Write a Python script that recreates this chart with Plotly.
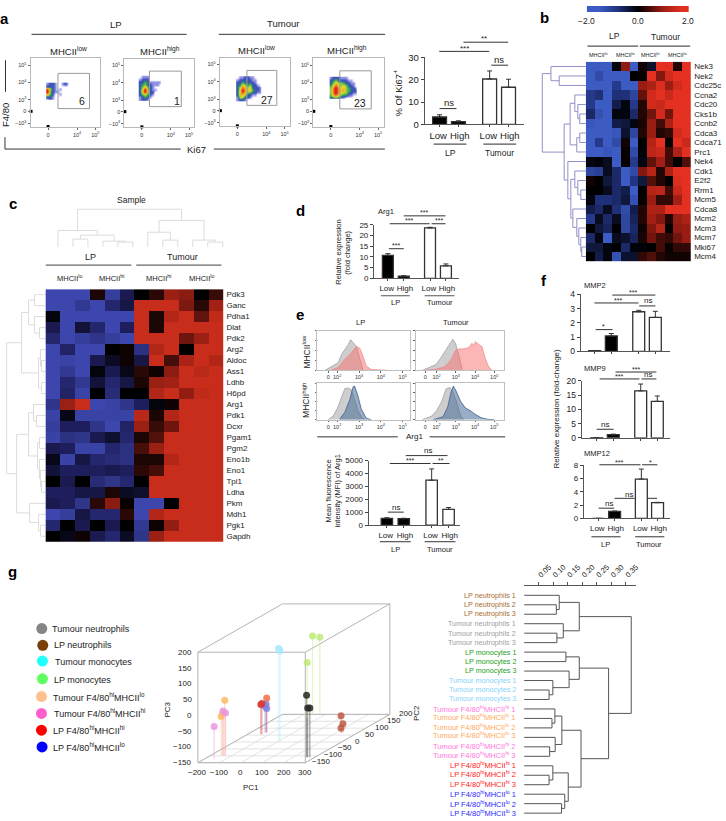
import plotly.graph_objects as go

W, H = 726, 821
FONT = "Liberation Sans"
INK = "#222222"

# ---------- panel a: bars ----------
A_BAR = [3.3, 1.2, 20.3, 16.6]
A_ERR = [1.0, 0.4, 3.6, 3.6]
# ---------- panel d / e / f bars ----------
D_BAR = [10.7, 1.0, 23.5, 5.8]
D_ERR = [0.8, 0.2, 0.3, 0.9]
E_BAR = [530, 510, 3480, 1220]
E_ERR = [50, 30, 870, 150]
MMP2 = [0.05, 1.08, 2.78, 2.38]
MMP2_ERR = [0, 0.17, 0.1, 0.43]
MMP9 = [0.1, 1.1, 16.5, 12.8]
MMP9_ERR = [0, 0.2, 2.4, 1.9]
MMP12 = [0, 1.05, 5.9, 2.35]
MMP12_ERR = [0, 0.05, 1.5, 0.05]
BAR_LABELS = ["Low\u00a0", "\u00a0High", "Low\u00a0", "\u00a0High"]
BAR_X = [0, 1, 2.65, 3.65]

# ---------- panel a: flow density grids (0 = empty) ----------
FLOW1 = [[.5,1,1,.5,0,0,.5,1,.5],[1,1,1,.5,0,0,0,0,0],[4,2,1,.5,0,.5,0,0,0],[5,1.5,1,.5,.5,0,0,0,0],
         [3,1.5,1,0,0,.5,0,0,0],[1,1,.5,0,0,0,0,0,0],[.5,1,.5,0,0,0,0,0,0]]
FLOW2 = [[0,.5,.5,.5,0,0,0,0,0],[.5,1,1,1,0,0,0,0,0],[1,1,1.5,1,.5,.5,.5,.5,.5],[1,1.5,2,1,1,.5,.5,.5,0],
         [1,2,3,1.5,1,.5,0,0,0],[1,3,5,2,1,.5,.5,0,0],[1,3,5,2,1,1,0,0,0],[1,2,2.5,1.5,1,.5,0,0,0],
         [.5,1,1.5,1,.5,0,0,0,0],[.5,1,1,.5,0,0,0,0,0]]
FLOW3 = [[0,.5,.5,1,1,.5,.5,0,0,0],[.5,1,1,1,1,1,.5,.5,0,0],[1,1,1.5,1,1,1,1,.5,0,0],[1,1.5,3,2,1.5,2,1,1,.5,0],
         [1,2.5,3.5,3,2,2.5,1,1,1,.5],[1,3,5,3,2,3,1.5,1,1,.5],[1,3,4,3,2,1.5,1,1,.5,.5],[1,3,3,2,1,1,.5,.5,0,0],
         [.5,2.5,2,1,1,.5,0,0,0,0],[.5,1,1,.5,0,0,0,0,0]]
FLOW4 = [[.5,1,1,1,.5,.5,.5,0,0,0,0],[1,1.5,2,1,1,1,1,.5,.5,0,0],[1,2,3,2,2,1.5,1,1,.5,.5,0],
         [1.5,3,4,2.5,2,2.5,2,1,1,.5,0],[2,4,5,3,2.5,3,2,1.5,1,1,.5],[2,4,5,3,3,3,2,1.5,1,1,1],
         [2,4,5,3,2.5,2,2,1,1,.5,.5],[1.5,3,3,2,1.5,1,1,.5,.5,0,0],[1,1,1.5,1,.5,.5,0,0,0,0,0]]
FLOW_GATE_LABELS = ["6", "1", "27", "23"]

# ---------- panel b ----------
B_GENES = ["Nek3","Nek2","Cdc25c","Ccna2","Cdc20","Cks1b","Ccnb2","Cdca3","Cdca71","Prc1","Nek4","Cdk1","E2f2",
           "Rrm1","Mcm5","Cdca8","Mcm2","Mcm3","Mcm7","Mki67","Mcm4"]
B_Z = [
 [-1.8,-1.8,-1.8,-.1,.9,-1.6,.1,-.3,2,2,.2,2],
 [-1.8,-1.3,-1.8,-1.8,-1.8,0,.05,2,.8,1.6,2,2],
 [-1.8,-1.8,-1.8,-1,-1.8,-1.8,1,1.2,1.7,1,1.6,2],
 [-1,-.8,-1.8,-.8,-.8,-1.2,.6,1.6,2,1.5,2,2],
 [-1,-1.7,-1.7,-.5,-.1,-1,.2,1.6,1.5,2,2,2],
 [-.7,-1.4,-1.7,-.1,-.1,-.7,.2,.7,1.6,.7,2,2],
 [-1.5,-1.6,-1.7,-.5,-.4,-.1,.15,1,.4,1.2,1.8,2],
 [-1.8,-1.8,-1.8,-1.5,-.3,-1.2,.2,1,.2,.3,1.6,2],
 [-1.8,-1,-1.8,-1.3,.1,-1.6,0,1.3,2,0,1.8,1.5],
 [-1.8,-1.8,-1.5,-1.7,.05,-1.3,-.05,1.4,1.5,.4,1.2,2],
 [-.1,-.05,-.2,-1.7,.05,-1,-.1,.6,1.1,.4,0,.5],
 [-1.2,-1.1,-.2,-.7,-1.7,-1.3,.8,1.3,.2,1.2,1.8,2],
 [.1,0,-.4,-.7,-1.7,-.9,-.4,.5,.2,0,1.7,2],
 [0,0,-.2,-.7,-.5,-1.6,0,1.3,1.4,.4,1.5,2],
 [-.1,-.8,-.8,-.7,-.4,-1.4,.05,1,.3,.3,1.1,1.9],
 [-.5,-.7,-.2,-.8,-1.3,-.5,.2,1.2,1.2,2,2,2],
 [-1,-.2,-.7,-.2,-1.2,-.6,.2,1.1,.8,.2,1,1.2],
 [0,-.4,-.6,0,-1.2,-.7,.1,.8,1.3,0,.9,1],
 [-.7,-.1,-1.6,-.2,-.3,-.6,.15,.7,.4,.3,.7,1],
 [-.4,-.4,-.1,0,-.7,-.05,-.05,0,.4,.05,.3,.3],
 [0,-.5,-.1,-1.4,-.3,-.3,.3,.5,.2,.1,.1,.1],
]
B_TREE = [43.7, [35, 0, [26.7, 1, 2]],
          [21.7, [15.7, [11, 3, [8, 4, [6, 5, 6]]], [9, [6, 7, 8], 9]],
           [18, 10, [15, [11, 11, [8, 12, [5, 13, 14]]],
                     [13, 15, [9, 16, [7, 17, [5, 18, [4, 19, 20]]]]]]]]]
# ---------- panel c ----------
C_GENES = ["Pdk3","Ganc","Pdha1","Dlat","Pdk2","Arg2","Aldoc","Ass1","Ldhb","H6pd","Arg1","Pdk1","Dcxr","Pgam1",
           "Pgm2","Eno1b","Eno1","Tpi1","Ldha","Pkm","Mdh1","Pgk1","Gapdh"]
C_Z = [
 [-1.7,-1.7,-1.7,.2,-1.5,-.7,0,.3,1.2,1,0,.4],
 [-1.7,-1.7,-1.4,-1.7,-1,-.6,1.8,2,1.8,.9,.3,1.3],
 [-.1,-1.7,-1.7,-1.7,-1.7,-1.7,2,.2,1.5,2,.7,1.7],
 [-.7,-1.7,-.5,-1,-1.7,-.8,2,.2,2,2,2,2],
 [-1,-1.7,-1.5,-1.3,-1.5,-1.7,2,2,2,.8,1.2,2],
 [-1.7,-.9,-1.7,-1.7,0,.1,-1.2,1.5,2,0,2,1.8],
 [-1.7,-1.6,-1.7,-.7,-.3,.1,-.6,2,.5,1.4,2,1.5],
 [-1.7,-1.4,-1.7,-.1,-.7,-.2,.3,.1,1,2,1.6,2],
 [-1.7,-1,-1.4,-.5,-1,-.6,.2,1.2,1.3,2,2,2],
 [-1.7,-.9,-1.6,0,-1.1,0,0,1.5,2,1.1,1.7,2],
 [-1.3,1.2,2,-1.7,-1.6,-1.3,-.8,-.1,.1,2,2,2],
 [-1.6,-.2,-1.6,-1.6,-1.6,-1.6,1.6,.2,1.5,2,1.8,2],
 [-1.5,-.8,-.8,-1.3,-1.7,-.9,1.2,.4,.8,1.8,2,2],
 [-1.6,-1.2,-1.3,-.7,-.4,-1,.2,.6,2,2,2,2],
 [-.7,-.8,-1.6,-1.6,-1,-1.2,.5,1.2,2,2,2,2],
 [-.2,-1.6,-.6,-1,-1.1,-1.2,.2,.2,1.5,2,2,2],
 [-.5,-.8,-.8,-.8,-.7,-.8,.3,.5,2,2,2,2],
 [0,-.7,0,-1.1,-1.3,-1,0,1.9,1.8,2,2,2],
 [-.8,-.8,-.6,-.6,.2,-.3,-.4,1.9,1.9,2,2,2],
 [-.7,-.8,-1.3,.3,1,.05,-1.7,-1.7,0,2,2,2],
 [-1.7,-1.5,-.6,-1,-1,.3,-1.7,1.5,2,2,2,2],
 [-1,0,-.7,0,-.7,0,-1.4,.1,1.1,2,2,2],
 [0,-.2,.1,-.7,-1,-.3,-1.3,1.2,1.8,2,2,2],
]
C_LEFT_TREE = [39, [24, [17, [11, 0, 1], [11, 2, [6, 3, 4]]], [7, [5, 5, [4, 6, 7]], [4, 8, 9]]],
               [29, [17, [12, 10, [9, 11, 12]], [8, [6, 13, 14], [6, 15, [5, 16, [4, 17, 18]]]]],
                [16, 19, [7, 20, [5, 21, 22]]]]]
C_TOP_TREE = [38.3, [16.7, 0, [12, [8, 1, 2], [6, 3, [5, 4, 5]]]],
              [27, [15, 6, [7, 7, 8]], [7, 9, [5, 10, 11]]]]

# ---------- panel e: histograms (decade position, % of box height) ----------
H1_GREY_X = [1.44,1.82,2.05,2.2,2.35,2.5,2.62,2.73,2.88,3.03,3.18]
H1_GREY_Y = [0,11,19,40,52,64,77,69,60,31,2]
H1_PINK_X = [1.74,2.05,2.27,2.5,2.65,2.88,3.03,3.18,3.33,3.56,4.0,4.3]
H1_PINK_Y = [1,7,23,36,44,60,56,36,11,2,1,0]
H2_GREY_X = [1.26,1.69,1.95,2.2,2.47,2.64,2.84,2.98,3.16,3.33]
H2_GREY_Y = [0,8,14,30,50,65,78,68,38,2]
H2_PINK_X = [1.43,1.86,2.38,2.64,2.81,2.98,3.16,3.41,3.67,3.84,3.93,4.02,4.19,4.36,4.53,4.7,4.88]
H2_PINK_Y = [0,2,8,20,32,50,54,54,57,68,62,72,65,60,30,10,0]
H3_GREY_X = [1.59,1.82,2.02,2.2,2.35,2.5,2.65,2.8,2.95,3.1,3.26]
H3_GREY_Y = [0,10,32,60,85,87,82,55,25,8,0]
H3_BLUE_X = [2.12,2.35,2.58,2.73,2.8,2.95,3.1,3.33,3.56]
H3_BLUE_Y = [2,20,55,90,92,65,30,4,0]
H4_GREY_X = [1.25,1.75,2,2.25,2.5,2.7,2.83,3,3.25,3.4]
H4_GREY_Y = [0,10,25,48,85,88,78,55,10,0]
H4_BLUE_X = [1.83,2.33,2.58,2.75,2.87,3,3.25,3.5,3.75,4,4.33,4.67,5]
H4_BLUE_Y = [0,8,35,75,92,80,50,32,25,15,5,1,0]

# ---------- panel g: PCA ----------
PCA_GROUPS = [
 ("Tumour F4/80 lo", "rgba(253,185,100,0.85)", [-133.5,-150,-143], [-98,-98,-98], [25,-26,-15]),
 ("Tumour F4/80 hi", "rgba(232,150,225,0.85)", [-141,-130,-157], [-98,-98,-121], [-9,-15,-48]),
 ("LP F4/80 lo", "rgba(130,130,225,0.85)", [-126,-129,-134], [69,69,69], [-74,-60,-67]),
 ("LP F4/80 hi", "rgba(220,55,50,0.85)", [-140,-135], [57,57], [-56,-53]),
 ("LP F4/80 hi b", "rgba(240,110,70,0.85)", [-126], [69], [-41]),
 ("Tumour neutrophils", "rgba(40,40,40,0.85)", [261,266,276], [-110,-110,-110], [46,6,6]),
 ("LP neutrophils", "rgba(190,90,70,0.85)", [220,229,220], [69,69,69], [-97,-122,-136]),
 ("Tumour monocytes", "rgba(170,235,250,0.85)", [-4,3.6,-1], [9.5,9.5,9.5], [142,134,140]),
 ("LP monocytes", "rgba(190,235,120,0.85)", [-60,-26,-58], [200,200,176], [98,94,25]),
]
PC1_TICKS = [-200,-100,0,100,200,300]
PC2_TICKS = [-150,-100,-50,0,50,100,150,200]
PC3_TICKS = [-150,-100,-50,0,50,100,150,200]
LEGEND_NAMES = ["Tumour neutrophils","LP neutrophils","Tumour monocytes","LP monocytes",
                "Tumour F4/80<sup>hi</sup>MHCII<sup>lo</sup>","Tumour F4/80<sup>hi</sup>MHCII<sup>hi</sup>",
                "LP F4/80<sup>hi</sup>MHCII<sup>hi</sup>","LP F4/80<sup>hi</sup>MHCII<sup>lo</sup>"]
LEGEND_COLORS = ["#858585","#7a3e08","#20ffff","#60ff60","#ffc090","#ff60d0","#ff0000","#0000ff"]

# ---------- panel g: dendrogram ----------
def hh(t, n): return f"{t} F4/80<sup>hi</sup>MHCII<sup>{n}</sup>"
DEND_LABELS = ["LP neutrophils 1","LP neutrophils 2","LP neutrophils 3","Tumour neutrophils 1","Tumour neutrophils 2",
 "Tumour neutrophils 3","LP monocytes 1","LP monocytes 2","LP monocytes 3","Tumour monocytes 1","Tumour monocytes 2",
 "Tumour monocytes 3",hh("Tumour","hi")+" 1",hh("Tumour","lo")+" 1",hh("Tumour","lo")+" 2",hh("Tumour","lo")+" 3",
 hh("Tumour","hi")+" 2",hh("Tumour","hi")+" 3",hh("LP","hi")+" 1",hh("LP","hi")+" 2",hh("LP","hi")+" 3",
 hh("LP","lo")+" 1",hh("LP","lo")+" 2",hh("LP","lo")+" 3"]
DEND_COLORS = ["#a86a30"]*3+["#a0a0a0"]*3+["#20a020"]*3+["#86d4fa"]*3+["#ff78e0","#ffa860","#ffa860","#ffa860","#ff78e0","#ff78e0"]+["#ff2020"]*3+["#2828ff"]*3
DEND_TREE = [.369,
  [.19, [.121, 0, [.111, 1, 2]], [.135, 3, [.113, 4, 5]]],
  [.291,
   [.19, [.144, 6, 7], [.155, 8, [.099, 9, [.086, 10, 11]]]],
   [.196,
    [.13, [.106, 12, [.096, 13, 14]], [.107, 15, [.088, 16, 17]]],
    [.152, [.099, 18, [.086, 19, 20]], [.14, 21, [.129, 22, 23]]]]]]
DEND_TICKS = [.05,.10,.15,.20,.25,.30,.35]

# ============= helpers =============
layout = dict(width=W, height=H, margin=dict(l=0,r=0,t=0,b=0,pad=0), paper_bgcolor="white", plot_bgcolor="rgba(0,0,0,0)",
              showlegend=False, font=dict(family=FONT, color=INK, size=9), annotations=[], shapes=[],
              hovermode=False)
traces = []
n_ax = [1]
layout["xaxis"] = dict(domain=[0,1], range=[0,W], visible=False, fixedrange=True)
layout["yaxis"] = dict(domain=[0,1], range=[H,0], visible=False, fixedrange=True)

def new_axes(x0, y0, x1, y1, xo, yo):
    n_ax[0] += 1
    n = n_ax[0]
    base = dict(fixedrange=True, showgrid=False, zeroline=False)
    layout[f"xaxis{n}"] = dict(base, domain=[x0/W, x1/W], anchor=f"y{n}", **xo)
    layout[f"yaxis{n}"] = dict(base, domain=[1-y1/H, 1-y0/H], anchor=f"x{n}", **yo)
    return f"x{n}", f"y{n}"

def T(x, y, s, size=9, angle=0, anchor="center", color=INK, bold=False):
    if bold: s = f"<b>{s}</b>"
    layout["annotations"].append(dict(x=x/W, y=1-y/H, xref="paper", yref="paper", text=s, showarrow=False,
        font=dict(size=size, color=color, family=FONT), textangle=angle, xanchor=anchor, yanchor="middle", borderpad=0))

def L(x0, y0, x1, y1, color="#333333", w=1):
    layout["shapes"].append(dict(type="line", xref="paper", yref="paper", x0=x0/W, x1=x1/W, y0=1-y0/H, y1=1-y1/H,
                                 line=dict(color=color, width=w)))

def R(x0, y0, x1, y1, color="#808080", w=1):
    layout["shapes"].append(dict(type="rect", xref="paper", yref="paper", x0=x0/W, x1=x1/W, y0=1-y0/H, y1=1-y1/H,
                                 line=dict(color=color, width=w), fillcolor="rgba(0,0,0,0)"))

def overlay_line(xs, ys, color, w=1):
    traces.append(go.Scatter(x=xs, y=ys, mode="lines", line=dict(color=color, width=w), hoverinfo="skip",
                             xaxis="x", yaxis="y", connectgaps=False))

def tree_segments(t, leafpos):
    """Returns (position, height, segment list) of a nested [height, a, b] tree."""
    if not isinstance(t, list):
        return leafpos(t), 0, []
    h, a, b = t
    pa, ha, sa = tree_segments(a, leafpos)
    pb, hb, sb = tree_segments(b, leafpos)
    return (pa+pb)/2, h, sa+sb+[((ha,pa),(h,pa),(h,pb),(hb,pb))]

def draw_tree_left(t, leaf_x, leafpos, color, w=1):
    _, _, segs = tree_segments(t, leafpos)
    xs, ys = [], []
    for s in segs:
        for h, p in s:
            xs.append(leaf_x-h); ys.append(p)
        xs.append(None); ys.append(None)
    overlay_line(xs, ys, color, w)

def draw_tree_top(t, leaf_y, leafpos, color, w=1):
    _, _, segs = tree_segments(t, leafpos)
    xs, ys = [], []
    for s in segs:
        for h, p in s:
            xs.append(p); ys.append(leaf_y-h)
        xs.append(None); ys.append(None)
    overlay_line(xs, ys, color, w)

def bars(px0, px1, top, bot, c0, pitch, bw, vals, errs, ymax, yticks, tick_size=9, labels=True):
    rx = [(px0-c0)/pitch, (px1-c0)/pitch]
    xa, ya = new_axes(px0, top, px1, bot,
        dict(range=rx, tickvals=BAR_X, ticktext=BAR_LABELS if labels else [""]*4, tickangle=0, ticks="outside", ticklen=2, tickwidth=1,
             tickcolor="#444", showline=True, linecolor="#555", linewidth=1, tickfont=dict(size=tick_size, family=FONT, color=INK)),
        dict(range=[0, ymax], tickvals=yticks, ticks="outside", ticklen=3, tickwidth=1, tickcolor="#444", showline=True,
             linecolor="#555", linewidth=1, tickfont=dict(size=tick_size, family=FONT, color=INK)))
    traces.append(go.Bar(x=BAR_X, y=vals, width=bw/pitch, xaxis=xa, yaxis=ya,
        marker=dict(color=["black","black","white","white"], line=dict(color="#333", width=1.3)),
        error_y=dict(type="data", array=errs, arrayminus=[0]*4, symmetric=False, color="#333", thickness=1, width=2.5)))

def bracket(x0, x1, y, s=None, tx=None, ty=None, size=8):
    L(x0, y, x1, y, "#333", 1)
    if s:
        T(tx if tx is not None else (x0+x1)/2, ty if ty is not None else y-4, s, size)

# ============= panel letters =============
for s, x, y in [("a",5,13),("b",548,12),("c",13,200),("d",302,207),("e",302,313),("f",547,278),("g",13,573)]:
    T(x, y, s, 15, bold=True, color="black")

# ============= panel a: flow =============
FLOW_BOXES = [(30.7,53,101,122.7),(125,54,195,123),(221,53,291.7,122),(315,53,386,122.7)]
FLOW_START = [(46.5,79),(139.5,72),(237.5,72.5),(331.5,73)]
FLOW_GATES = [(58.3,68.3,90,104),(150.3,66,182.3,102),(248.3,65.3,278.3,100.7),(341.7,65.7,373.3,104.3)]
FLOW_LBL = [(82.5,96),(177.7,96),(268,95),(362,98)]
FLOW_SCALE = [[0,"#ffffff"],[.08,"#a4a4ea"],[.18,"#3a48c0"],[.3,"#30b050"],[.48,"#e8e030"],[.68,"#f09020"],[.9,"#e82020"],[1,"#e82020"]]
XDEC, YDEC = 18.4, 17.5
for i, (box, st, gate, lb, grid) in enumerate(zip(FLOW_BOXES, FLOW_START, FLOW_GATES, FLOW_LBL, [FLOW1,FLOW2,FLOW3,FLOW4])):
    x0, y0, x1, y1 = box
    rx = [1.46, 1.46+(x1-x0)/XDEC]
    ry = [1.42, 1.42+(y1-y0)/YDEC]
    tick = dict(ticks="outside", ticklen=2, tickwidth=.7, tickcolor="#666", showline=True, mirror=True, linecolor="#b8b8b8", linewidth=1,
                tickfont=dict(size=5.5, family=FONT, color="#333"))
    xa, ya = new_axes(x0, y0, x1, y1,
        dict(range=rx, tickvals=[2.42,4,5], ticktext=["0","10<sup>4</sup>","10<sup>5</sup>"], **tick),
        dict(range=ry, tickvals=[1.63,2.33,3,4,5], ticktext=["−10<sup>3</sup>","0","10<sup>3</sup>","10<sup>4</sup>","10<sup>5</sup>"], **tick))
    gx = [rx[0]+(st[0]+1.25*(2*c+1)-x0)/XDEC for c in range(len(grid[0]))]
    gy = [ry[0]+(y1-(st[1]+2.5*r))/YDEC for r in range(len(grid))]
    traces.append(go.Heatmap(x=gx, y=gy, z=grid, zmin=0, zmax=5, colorscale=FLOW_SCALE, showscale=False, xaxis=xa, yaxis=ya,
                             hoverinfo="skip", zsmooth="best"))
    # black clump of events piled on the zero lines
    traces.append(go.Scatter(x=[rx[0]+.03, 2.42], y=[2.33, ry[0]+.03], mode="markers", cliponaxis=False,
                             marker=dict(color="black", size=3, symbol="square"), xaxis=xa, yaxis=ya, hoverinfo="skip"))
    R(gate[0], gate[1], gate[2], gate[3], "#9a9a9a", 1)
    T(lb[0], lb[1], FLOW_GATE_LABELS[i], 10.5)
T(116.7,19,"LP",9.5); L(31.7,28.7,187.7,28.7)
T(285,18,"Tumour",9.5); L(220,28.7,387.3,28.7)
T(69,46,"MHCII<sup>low</sup>",9.5); T(161,46,"MHCII<sup>high</sup>",9.5)
T(258,44.5,"MHCII<sup>low</sup>",9.5); T(349,45,"MHCII<sup>high</sup>",9.5)
L(5.5,55,5.5,87); L(5,133,5,145); L(5,145,181.7,145); L(215,145,387,145)
T(5.5,110,"F4/80",9.5,angle=-90); T(198,145,"Ki67",9.5)

# ---- a bars
bars(427,527,52,120,442,19,14,A_BAR,A_ERR,30,[0,10,20,30],tick_size=9.5)
T(400,88,"% Of Ki67<sup>+</sup>",9.5,angle=-90)
bracket(466,511,36.7,"**",487,33); bracket(441.7,492,46,"***",467,43)
bracket(494,511,60,"ns",502,54,size=9.5); bracket(442,459,104,"ns",451,97.5,size=9.5)
L(436,140,469,140,"#555",1.2); L(486,140,519,140,"#555",1.2)
T(453,148.7,"LP",8.5); T(502.6,148.7,"Tumour",8.5)

# ============= panel b =============
BC = [[0,"#3c5cc4"],[.1,"#3c5cc4"],[.3,"#1f2f78"],[.5,"#000000"],[.72,"#8f1a12"],[.95,"#e43020"],[1,"#e43020"]]
xa, ya = new_axes(589,56.5,695,258.8, dict(visible=False, range=[-.5,11.5]),
    dict(range=[20.5,-.5], tickvals=list(range(len(B_GENES))), ticktext=B_GENES, side="right", ticklen=0,
         showline=False, tickfont=dict(size=8, family=FONT, color=INK), ticklabelstandoff=2))
traces.append(go.Heatmap(z=B_Z, x=list(range(12)), y=list(range(21)), zmin=-2, zmax=2, colorscale=BC, showscale=False, xaxis=xa, yaxis=ya, hoverinfo="skip"))
# colour key
KEY_VALUES = [-2,-1.8,-1.6,-1.4,-1.2,-1,-.8,-.6,-.4,-.2,0,.2,.4,.6,.8,1,1.2,1.4,1.6,1.8,2]
xa, ya = new_axes(590,0,692.7,6, dict(visible=False, range=[-2.1,2.1]), dict(visible=False, range=[0,1]))
traces.append(go.Heatmap(z=[KEY_VALUES], x=KEY_VALUES, y=[.5], zmin=-2, zmax=2, colorscale=BC, showscale=False, xaxis=xa, yaxis=ya, hoverinfo="skip", zsmooth="best"))
T(590,15,"−2.0",8.5); T(641.7,15,"0.0",8.5); T(691.7,15,"2.0",8.5)
T(617.7,30.7,"LP",8.5); T(669,31,"Tumour",8.5)
L(590.7,40.7,641.7,40.7,"#555",1.2); L(643.3,40.7,694,40.7,"#555",1.2)
for x, s in [(601.7,"hi"),(629,"lo"),(654,"hi"),(681,"lo")]:
    T(x,49.3,f"MHCII<sup>{s}</sup>",5.5)
draw_tree_left(B_TREE, 589, lambda i: 61.3+9.63*i, "#9090c8", 1)

# ============= panel c =============
CC = [[0,"#3c46ac"],[.08,"#3c46ac"],[.3,"#1e1e5c"],[.5,"#000000"],[.75,"#8a1c12"],[.95,"#c82c1a"],[1,"#c82c1a"]]
xa, ya = new_axes(45.7,287,224.7,543, dict(visible=False, range=[-.5,11.5]),
    dict(range=[22.5,-.5], tickvals=list(range(len(C_GENES))), ticktext=C_GENES, side="right", ticklen=0,
         showline=False, tickfont=dict(size=8, family=FONT, color=INK), ticklabelstandoff=2))
traces.append(go.Heatmap(z=C_Z, x=list(range(12)), y=list(range(23)), zmin=-2, zmax=2, colorscale=CC, showscale=False, xaxis=xa, yaxis=ya, hoverinfo="skip"))
T(132,197,"Sample",8.5)
T(91,254.7,"LP",9); T(183.7,254.7,"Tumour",9)
L(46,262.7,132,262.7,"#666",1.2); L(137,262.7,222.7,262.7,"#666",1.2)
for x, s in [(70,"lo"),(112,"hi"),(159,"hi"),(202.7,"lo")]:
    T(x,276,f"MHCII<sup>{s}</sup>",7.5)
draw_tree_left(C_LEFT_TREE, 45.7, lambda i: 292.6+11.13*i, "#dcdcdc", 1)
draw_tree_top(C_TOP_TREE, 244.3, lambda i: 58.3+15.06*i, "#dcdcdc", 1)

# ============= panel d =============
bars(376,462,221.7,276,390,16,11,D_BAR,D_ERR,25,[0,5,10,15,20,25],tick_size=8)
T(388,208,"Arg1",7.5)
T(341,250,"Relative expression",7.5,angle=-90); T(350,250,"(fold change)",7.5,angle=-90)
bracket(406,448,212.7,"***",426,209.5,size=7); bracket(392,432,220.7,"***",411,217.5,size=7)
bracket(434,448,220.7,"***",441,217.5,size=7); bracket(391,406,246,"***",398,242.5,size=7)
L(383,293.7,412,293.7,"#555",1); L(427,293.7,457,293.7,"#555",1)
T(398,301,"LP",7.5); T(442,301,"Tumour",7.5)

# ============= panel e =============
HIST = [
 (319,329,412,369.3,1.09,5.32,[1.59,2,3,4,5],H1_GREY_X,H1_GREY_Y,H1_PINK_X,H1_PINK_Y,"rgba(250,110,110,0.5)","#f08a8a"),
 (418,329,507,369.3,.91,5.52,[1.41,2,3,4,5],H2_GREY_X,H2_GREY_Y,H2_PINK_X,H2_PINK_Y,"rgba(250,110,110,0.5)","#f08a8a"),
 (319,382.3,412,419.3,1.09,5.32,[1.59,2,3,4,5],H3_GREY_X,H3_GREY_Y,H3_BLUE_X,H3_BLUE_Y,"rgba(70,105,150,0.55)","#3f6090"),
 (418,382.3,507,419.3,.91,5.52,[1.41,2,3,4,5],H4_GREY_X,H4_GREY_Y,H4_BLUE_X,H4_BLUE_Y,"rgba(70,105,150,0.55)","#3f6090"),
]
for x0,y0,x1,y1,r0,r1,tv,gx,gy,cx,cy,fc,lc in HIST:
    tick = dict(ticks="outside", ticklen=1.5, tickwidth=.7, tickcolor="#666", showline=True, mirror=True, linecolor="#c0c0c0", linewidth=1,
                tickfont=dict(size=5.5, family=FONT, color="#333"))
    xa, ya = new_axes(x0,y0,x1,y1,
        dict(range=[r0,r1], tickvals=tv, ticktext=["0","10<sup>2</sup>","10<sup>3</sup>","10<sup>4</sup>","10<sup>5</sup>"], **tick),
        dict(range=[0,100], tickvals=[0,25,50,75,100], showticklabels=False, **{k:v for k,v in tick.items() if k!="tickfont"}))
    traces.append(go.Scatter(x=gx,y=gy,fill="tozeroy",mode="lines",line=dict(color="#a0a0a0",width=.8),fillcolor="rgba(165,165,165,0.55)",xaxis=xa,yaxis=ya,hoverinfo="skip"))
    traces.append(go.Scatter(x=cx,y=cy,fill="tozeroy",mode="lines",line=dict(color=lc,width=.8),fillcolor=fc,xaxis=xa,yaxis=ya,hoverinfo="skip"))
T(362.7,321,"LP",7.5); T(459,321,"Tumour",7.5)
T(308,350,"MHCII<sup>low</sup>",8.5,angle=-90); T(308,400,"MHCII<sup>high</sup>",8.5,angle=-90)
T(416.7,436.7,"Arg1",8); L(319,436.7,400,436.7); L(432,436.7,508,436.7)

bars(370.7,463,460.7,526.3,389,17,11.5,E_BAR,E_ERR,5000,[0,1000,2000,3000,4000,5000],tick_size=8)
T(330,492,"Mean fluorescence",7.5,angle=-90); T(339,492,"intensity (MFI) of Arg1",7.5,angle=-90)
bracket(408,450,455.7,"ns",430,450.5); bracket(392,433,463.7,"***",412,460.5,size=7)
bracket(435,452,463.7,"**",443,460.5,size=7); bracket(390,406,513,"ns",398,508)
L(382,543,413,543,"#333",1); L(427,543,458,543,"#333",1)
T(397.5,551,"LP",7.5); T(442,551,"Tumour",7.5)

# ============= panel f =============
bars(584,674,292.3,350,598,16.7,12,MMP2,MMP2_ERR,4,[0,1,2,3,4],tick_size=8.5,labels=False)
bars(585,674,380,437.7,600,16.7,12,MMP9,MMP9_ERR,20,[0,5,10,15,20],tick_size=8.5,labels=False)
bars(587,674,465.3,519.3,601.7,16.3,12,MMP12,MMP12_ERR,8,[0,2,4,6,8],tick_size=8)
T(598,283,"MMP2",7.5); T(598,367,"MMP9",7.5); T(600.7,454,"MMP12",7.5)
T(560,408,"Relative expression (fold-change)",8,angle=-90)
bracket(615.7,659,293,"***",636.7,290.5,size=7); bracket(597.7,642,301,"***",621,298.5,size=7)
bracket(642.7,659,304,"ns",652,299,size=8); bracket(599,616,328,"*",607,324.5,size=7)
bracket(619,660,371,"***",640,368.5,size=7); bracket(603,643,378,"***",622,375.5,size=7)
bracket(645,660,378,"ns",652,374,size=8); bracket(600,617,429,"ns",608,424,size=8)
bracket(602.7,644,465,"***",622,463,size=7); bracket(645.7,661,465,"*",654,463,size=7)
bracket(618,638,499,"ns",632,495,size=8); L(651,499,660.7,499); bracket(602,617.7,509,"ns",612,504,size=8)
L(594.7,538,624,538,"#333",1); L(638.7,538,668,538,"#333",1)
T(609,546,"LP",7.5); T(653,546,"Tumour",7.5)

# ============= panel g: legend =============
LEG_M = [(42,631),(43,648),(42.7,664),(42.7,682),(41.7,700),(41.7,717),(41.7,734),(42.3,751)]
LEG_T = [(51,631),(53.3,648),(54,665),(53.3,683),(52,700),(53.3,716.7),(52.3,734),(52.3,751)]
traces.append(go.Scatter(x=[p[0] for p in LEG_M], y=[p[1] for p in LEG_M], mode="markers", xaxis="x", yaxis="y",
                         marker=dict(color=LEGEND_COLORS, size=11, line=dict(width=0)), hoverinfo="skip"))
for (x,y), s in zip(LEG_T, LEGEND_NAMES):
    T(x,y,s,9,anchor="left")

# ============= panel g: oblique 3-D projection of PC1/PC2/PC3 =============
def proj(pc1, pc2, pc3):
    return (199+(pc1+200)*.216+(pc2+150)*.2429, 767-(pc2+150)*.14-(pc3+150)*.32)

def pl(a, b, color="#b4b4b4", w=1):
    p, q = proj(*a), proj(*b)
    overlay_line([p[0],q[0]],[p[1],q[1]],color,w)

# floor grid
for v in PC1_TICKS:
    pl((v,-150,-150),(v,200,-150),"#dcdcdc",.8)
for v in PC2_TICKS:
    pl((-200,v,-150),(300,v,-150),"#dcdcdc",.8)
# box edges
for a, b in [((-200,-150,-150),(300,-150,-150)),((-200,-150,200),(300,-150,200)),((-200,-150,-150),(-200,-150,200)),
             ((300,-150,-150),(300,-150,200)),((-200,200,200),(300,200,200)),((300,200,-150),(300,200,200)),
             ((-200,-150,200),(-200,200,200)),((300,-150,200),(300,200,200)),((300,-150,-150),(300,200,-150)),
             ((-200,-150,-150),(-200,200,-150)),((-200,200,-150),(300,200,-150))]:
    pl(a,b)
for name, col, p1, p2, p3 in PCA_GROUPS:
    is_tm = name == "Tumour monocytes"
    line_col = col.replace("0.85", "0.3" if is_tm else "0.45")
    for a, b, c in zip(p1,p2,p3):
        pl((a,b,c),(a,b,-150),line_col,1.2)
for name, col, p1, p2, p3 in PCA_GROUPS:
    pts = [proj(a,b,c) for a,b,c in zip(p1,p2,p3)]
    traces.append(go.Scatter(x=[q[0] for q in pts], y=[q[1] for q in pts], mode="markers", xaxis="x", yaxis="y",
                             marker=dict(color=col,size=7,line=dict(width=0)), hoverinfo="skip"))
def minus(v): return str(v).replace("-","−")
for v in PC1_TICKS:
    p = proj(v,-150,-150); T(p[0],776.7,minus(v),8)
for v in PC3_TICKS:
    p = proj(-200,-150,v); T(194,p[1],minus(v),8,anchor="right")
for v in PC2_TICKS:
    p = proj(300,v,-150); T(p[0]+16,p[1]-1,minus(v),8)
T(252,792,"PC1",8); T(168,713,"PC3",8,angle=-90); T(419,717,"PC2",8,angle=-90)

# ============= panel g: dendrogram =============
DX0, DX1, DY0, DY1 = 527, 640, 588, 821
LEAF0, LEAFP = 597.3, 9.6
xa, ya = new_axes(DX0,DY0,DX1,DY1,
    dict(range=[0,(DX1-DX0)/292.0], side="top", tickvals=DEND_TICKS, ticktext=[f"{v:.2f}" for v in DEND_TICKS], tickangle=-45,
         ticks="outside", ticklen=3, tickcolor="#555", showline=True, linecolor="#555", linewidth=1,
         tickfont=dict(size=7.5, family=FONT, color=INK)),
    dict(range=[(DY1-LEAF0)/LEAFP,(DY0-LEAF0)/LEAFP], visible=False))
_, _, segs = tree_segments(DEND_TREE, lambda i: i)
dx, dy = [], []
for s in segs:
    for h, p in s:
        dx.append(h); dy.append(p)
    dx.append(None); dy.append(None)
traces.append(go.Scatter(x=dx,y=dy,mode="lines",line=dict(color="#555",width=1),xaxis=xa,yaxis=ya,hoverinfo="skip",cliponaxis=False))
LABEL_Y = [292,321,348,377,407,434,466,493,521,551,579,607,637,662,692,717,749,778,808,836,866,895,927,955]
for zy, s, c in zip(LABEL_Y, DEND_LABELS, DEND_COLORS):
    T(520,500+zy/3,s,7.5 if "<sup>" in s else 7.2,anchor="right",color=c)

fig = go.Figure(traces, go.Layout(**layout))
fig.write_html("out.html", config=dict(displayModeBar=False),
               post_script="document.body.style.margin='0';document.documentElement.style.overflow='hidden';")
